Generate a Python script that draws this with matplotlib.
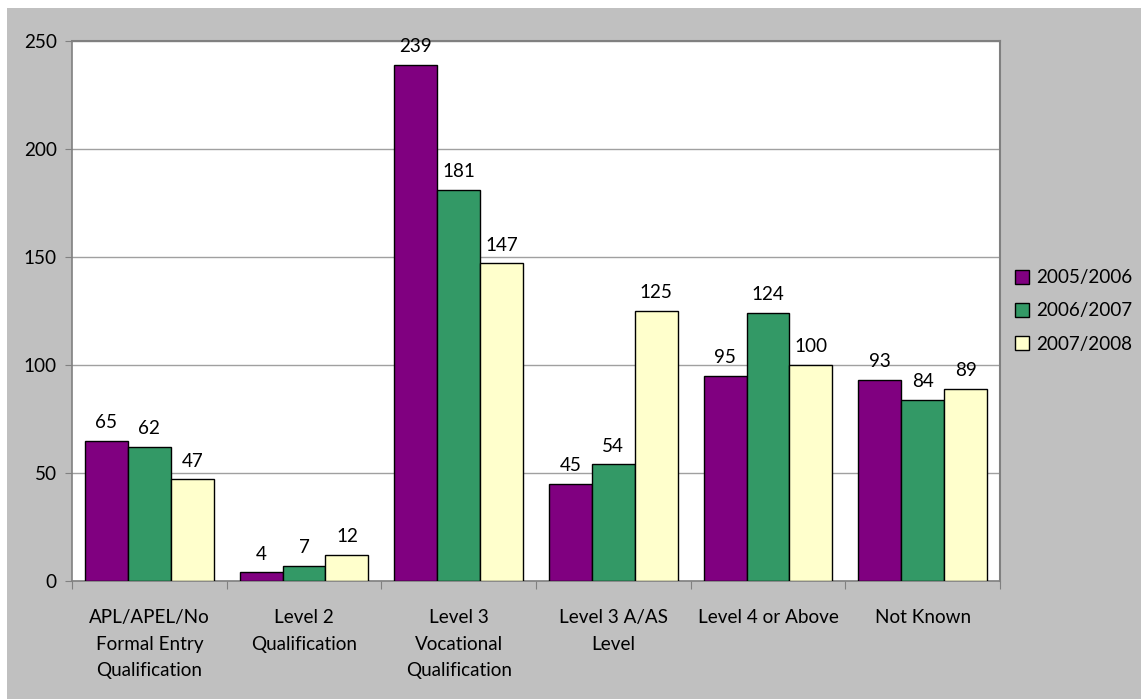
import matplotlib
matplotlib.use("Agg")
import matplotlib.pyplot as plt
from matplotlib.patches import Rectangle
import numpy as np

categories = ["APL/APEL/No\nFormal Entry\nQualification", "Level 2\nQualification",
              "Level 3\nVocational\nQualification", "Level 3 A/AS\nLevel",
              "Level 4 or Above", "Not Known"]
series_names = ["2005/2006", "2006/2007", "2007/2008"]
v2005 = [65, 4, 239, 45, 95, 93]
v2006 = [62, 7, 181, 54, 124, 84]
v2007 = [47, 12, 147, 125, 100, 89]
colors = ["#800080", "#339966", "#FFFFCC"]

plt.rcParams['font.family'] = ['Lato', 'DejaVu Sans']
fs = 13.6

W, H = 1141, 699
fig = plt.figure(figsize=(W / 100, H / 100), dpi=100)
fig.patch.set_facecolor("white")
# grey chart area
fig.patches.append(Rectangle((7 / W, 0), 1 - 7 / W, 1 - 8 / H, transform=fig.transFigure,
                             facecolor="#C0C0C0", edgecolor="none", zorder=-1))

ax = fig.add_axes([72 / W, (H - 581) / H, 928 / W, 540 / H])
ax.set_facecolor("white")

x = np.arange(len(categories))
w = 0.278
for i, (vals, name) in enumerate(zip([v2005, v2006, v2007], series_names)):
    bars = ax.bar(x + (i - 1) * w, vals, w, color=colors[i], edgecolor="black",
                  linewidth=1.0, label=name, zorder=3)
    for b, v in zip(bars, vals):
        ax.annotate(str(v), (b.get_x() + b.get_width() / 2, v), xytext=(0, 7),
                    textcoords="offset points", ha="center", va="bottom",
                    fontsize=fs, color="black", zorder=4)

ax.set_xlim(-0.5, len(categories) - 0.5)
ax.set_ylim(0, 250)
ax.set_yticks(range(0, 251, 50))
ax.tick_params(axis="y", labelsize=fs, length=5, color="#808080", pad=6)
ax.yaxis.grid(True, color="#A0A0A0", linewidth=1, zorder=0)

ax.set_xticks(np.arange(-0.5, len(categories), 1))
ax.set_xticklabels([])
ax.set_xticks(x, minor=True)
ax.set_xticklabels(categories, minor=True, fontsize=fs, linespacing=1.7)
ax.tick_params(axis="x", which="major", length=6, color="#808080")
ax.tick_params(axis="x", which="minor", length=0, pad=20)

for s in ["top", "right"]:
    ax.spines[s].set_color("#808080")
    ax.spines[s].set_linewidth(1.5)
for s in ["left", "bottom"]:
    ax.spines[s].set_color("#808080")
    ax.spines[s].set_linewidth(1.2)

leg = ax.legend(loc="center left", bbox_to_anchor=(1.0, 0.5), frameon=False,
                fontsize=fs, handlelength=0.75, handleheight=0.75, handletextpad=0.35,
                labelspacing=0.85, borderaxespad=0.4)

fig.savefig("out.png", dpi=100)
